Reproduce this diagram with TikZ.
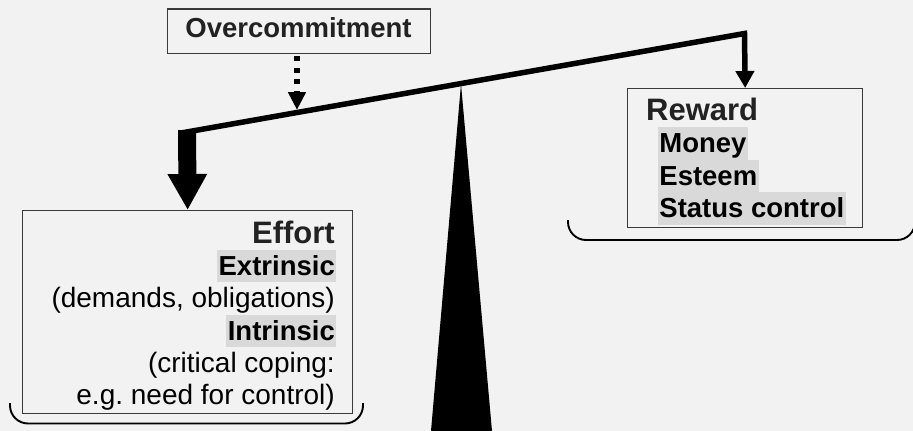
\documentclass[tikz,border=0pt]{standalone}
\usepackage{fontspec}
\setmainfont{Liberation Sans}
\usetikzlibrary{arrows.meta}
\definecolor{bg}{HTML}{F2F2F2}
\definecolor{hl}{HTML}{D9D9D9}
\definecolor{ink}{HTML}{222222}
\definecolor{frame}{HTML}{3A3A3A}

\begin{document}
\begin{tikzpicture}[x=1pt,y=-1pt,
  box/.style={draw=frame, line width=1.3pt, inner sep=0pt, anchor=north west},
  head/.style={font=\fontsize{31}{31}\selectfont\bfseries, text=ink, inner sep=0pt},
  label/.style={font=\fontsize{27.5}{32}\selectfont\bfseries, text=ink, inner sep=0pt},
  item/.style={font=\fontsize{27.5}{32}\selectfont\bfseries, text=black, fill=hl,
               inner xsep=1.5pt, inner ysep=0pt, text height=25.5pt, text depth=7pt},
  plain/.style={font=\fontsize{28}{32}\selectfont, text=black, inner sep=0pt},
  brace/.style={line width=1.9pt, rounded corners=18pt},
  beam/.style={line width=5.5pt, line join=miter}
]
% canvas
\fill[bg] (0,0) rectangle (913,431);
\useasboundingbox (0,0) rectangle (913,431);

% boxes
\node[box, minimum width=330pt, minimum height=203pt] (effort) at (22,210) {};
\node[box, minimum width=235pt, minimum height=139pt] (reward) at (627,88) {};
\node[box, minimum width=263pt, minimum height=44.5pt] (over) at (167,8.3) {};
\node[label, anchor=base] (overtxt) at (298.5,37.3) {Overcommitment};

% effort text, right aligned
\node[head,  anchor=base east] (eff)  at (335,243)   {Effort};
\node[item,  anchor=base east] (ext)  at (336.5,275) {Extrinsic};
\node[plain, anchor=base east] (dem)  at (335,307.5) {(demands, obligations)};
\node[item,  anchor=base east] (int)  at (336.5,340) {Intrinsic};
\node[plain, anchor=base east] (crit) at (335,372)   {(critical coping:};
\node[plain, anchor=base east] (need) at (335,404)   {e.g.\ need for control)};

% reward text, left aligned
\node[head, anchor=base west] (rew)  at (646,120)     {Reward};
\node[item, anchor=base west] (mon)  at (657.7,152.5) {Money};
\node[item, anchor=base west] (est)  at (657.7,185)   {Esteem};
\node[item, anchor=base west] (stat) at (657.7,217.5) {Status control};

% fulcrum
\coordinate (apex) at (461,84);
\fill[black] (apex) -- (492,431) -- (431,431) -- cycle;

% tilted beam with the light reward side
\coordinate (bl) at (181,133);
\coordinate (br) at (744.5,33.5);
\coordinate (lt) at (187,130);
\coordinate (ot) at (297,110);
\draw[beam, -{Triangle[width=18pt,length=17pt]}] (bl) -- (br) -- (reward.north);

% heavy effort side
\draw[line width=18pt, -{Triangle[width=37pt,length=36pt]}] (lt) -- (effort.north);

% overcommitment pressing on the effort side
\draw[line width=6pt, dash pattern=on 5pt off 6.67pt, dash phase=9.67pt,
      -{Triangle[width=17pt,length=18pt]}] (over.south -| ot) -- (ot);

% braces under both boxes
\begin{scope}
  \clip (0,0) rectangle (913,431);
  \draw[brace] (10,403) -- (10,423.5) -- (363,423.5) -- (363,403);
  \draw[brace] (568,220) -- (568,240) -- (915,240) -- (915,220);
\end{scope}
\end{tikzpicture}
\end{document}
